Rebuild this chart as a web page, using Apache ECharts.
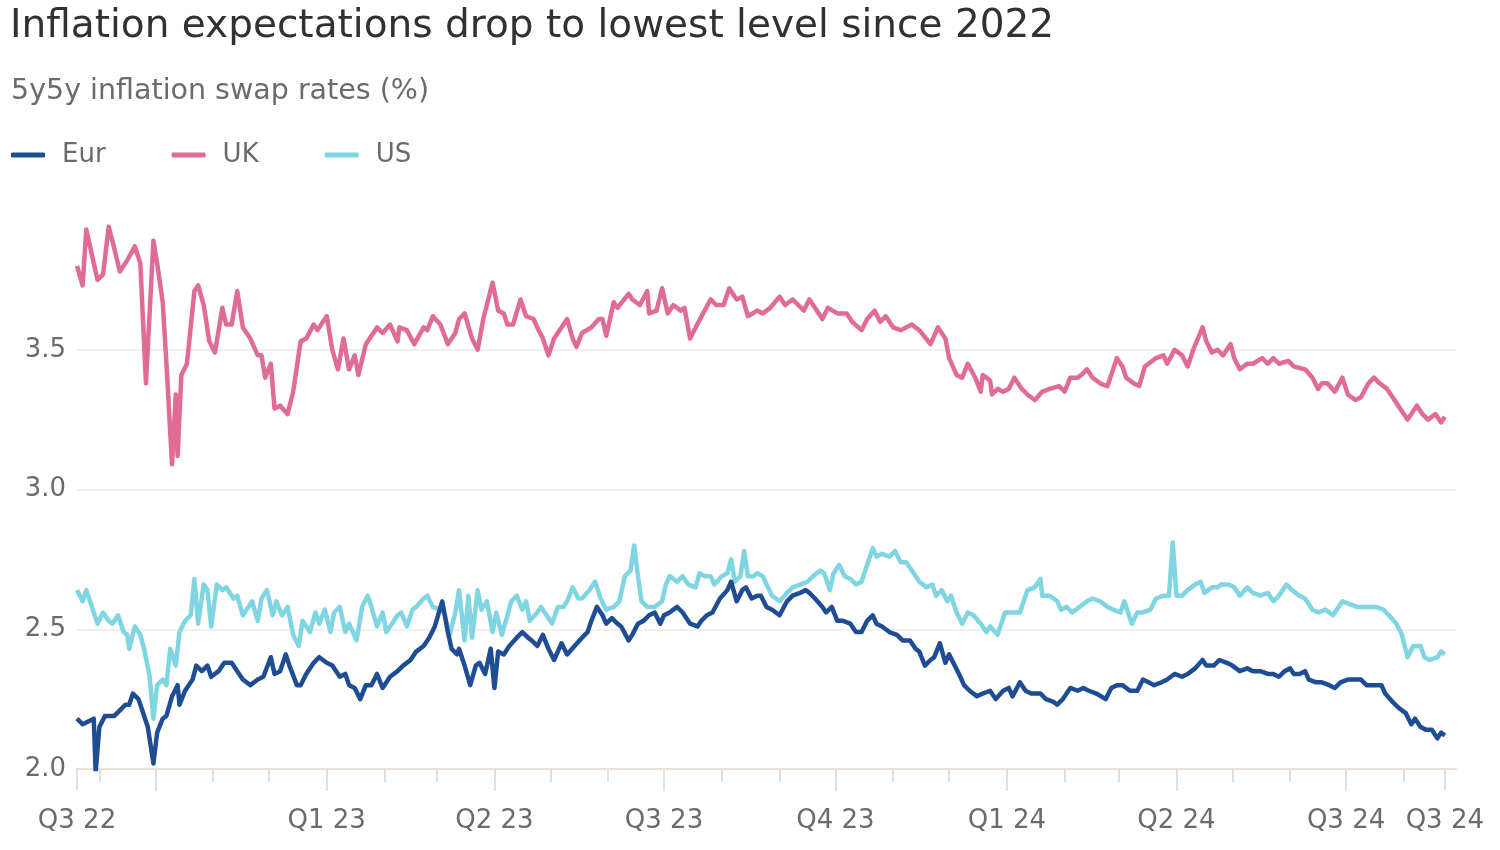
<!DOCTYPE html>
<html>
<head>
<meta charset="utf-8">
<script src="https://cdn.jsdelivr.net/npm/echarts@6/dist/echarts.min.js"></script>
<style>
html,body{margin:0;padding:0;background:#fff;}
#chart{width:1500px;height:850px;}
</style>
</head>
<body>
<div id="chart"></div>
<script>
// Day 0 of the series = 2022-08-20; data points are [day offset, value in %]
const START_DATE = '2022-08-20';
const END_DATE = '2024-08-23';

const TITLE = 'Inflation expectations drop to lowest level since 2022';
const SUBTITLE = '5y5y inflation swap rates (%)';
const seriesNames = ['Eur', 'UK', 'US'];

const xLabelDates = ['2022-08-20','2023-01-01','2023-04-01','2023-07-01','2023-10-01','2024-01-01','2024-04-01','2024-07-01','2024-08-23'];
const xLabelTexts = ['Q3 22','Q1 23','Q2 23','Q3 23','Q4 23','Q1 24','Q2 24','Q3 24','Q3 24'];
const majorTickDates = ['2022-08-20','2022-10-01','2023-01-01','2023-04-01','2023-07-01','2023-10-01','2024-01-01','2024-04-01','2024-07-01','2024-08-23'];
const minorTickDates = ['2022-09-01','2022-11-01','2022-12-01','2023-02-01','2023-03-01','2023-05-01','2023-06-01','2023-08-01','2023-09-01','2023-11-01','2023-12-01','2024-02-01','2024-03-01','2024-05-01','2024-06-01','2024-08-01'];
const yTicks = [2.0, 2.5, 3.0, 3.5];

const ukData = [
[0,3.80],[3,3.73],[5,3.93],[8,3.84],[11,3.75],[14,3.77],[17,3.94],[19,3.89],[23,3.78],[27,3.82],[31,3.87],[34,3.81],[37,3.38],[41,3.89],[43,3.81],[46,3.67],[48,3.45],[51,3.09],[53,3.34],[54,3.12],[56,3.41],[59,3.45],[63,3.71],[65,3.73],[68,3.66],[71,3.53],[74,3.49],[78,3.65],[80,3.59],[83,3.59],[86,3.71],[89,3.58],[93,3.54],[97,3.48],[99,3.48],[101,3.40],[104,3.45],[106,3.29],[109,3.30],[113,3.27],[116,3.35],[120,3.53],[123,3.54],[127,3.59],[129,3.57],[134,3.62],[137,3.50],[140,3.43],[143,3.54],[146,3.43],[149,3.48],[151,3.41],[155,3.52],[161,3.58],[164,3.56],[168,3.59],[172,3.53],[173,3.58],[177,3.57],[181,3.52],[186,3.58],[188,3.57],[191,3.62],[195,3.59],[199,3.52],[203,3.56],[205,3.61],[208,3.63],[212,3.54],[215,3.50],[218,3.61],[223,3.74],[226,3.64],[229,3.63],[231,3.59],[234,3.59],[238,3.68],[241,3.62],[245,3.61],[247,3.58],[250,3.54],[253,3.48],[256,3.54],[259,3.57],[263,3.61],[266,3.54],[268,3.51],[271,3.56],[276,3.58],[280,3.61],[282,3.61],[284,3.55],[288,3.67],[290,3.65],[296,3.70],[298,3.68],[302,3.66],[306,3.71],[307,3.63],[311,3.64],[314,3.72],[317,3.63],[320,3.66],[324,3.64],[326,3.65],[329,3.54],[332,3.58],[336,3.63],[340,3.68],[343,3.66],[347,3.66],[350,3.72],[354,3.68],[357,3.69],[360,3.62],[365,3.64],[368,3.63],[372,3.65],[377,3.69],[380,3.66],[384,3.68],[387,3.66],[390,3.64],[393,3.68],[396,3.65],[400,3.61],[403,3.65],[408,3.63],[413,3.63],[416,3.60],[421,3.57],[424,3.61],[428,3.64],[431,3.60],[434,3.62],[438,3.58],[442,3.57],[448,3.59],[452,3.57],[458,3.52],[462,3.58],[466,3.54],[468,3.47],[472,3.41],[475,3.40],[478,3.45],[482,3.40],[485,3.35],[486,3.41],[490,3.39],[491,3.34],[494,3.36],[497,3.35],[500,3.36],[503,3.40],[507,3.36],[510,3.34],[514,3.32],[518,3.35],[522,3.36],[527,3.37],[530,3.35],[533,3.40],[537,3.40],[539,3.41],[542,3.43],[545,3.40],[549,3.38],[553,3.37],[558,3.47],[561,3.44],[563,3.40],[567,3.38],[570,3.37],[573,3.44],[577,3.46],[579,3.47],[583,3.48],[585,3.45],[589,3.50],[593,3.48],[596,3.44],[599,3.50],[604,3.58],[606,3.53],[609,3.49],[612,3.50],[615,3.48],[619,3.52],[621,3.47],[624,3.43],[628,3.45],[631,3.45],[636,3.47],[639,3.45],[642,3.47],[645,3.45],[650,3.46],[653,3.44],[659,3.43],[663,3.40],[666,3.36],[668,3.38],[671,3.38],[675,3.35],[679,3.40],[682,3.34],[686,3.32],[689,3.33],[693,3.38],[696,3.40],[699,3.38],[703,3.36],[706,3.33],[711,3.28],[714,3.25],[719,3.30],[722,3.27],[725,3.25],[729,3.27],[732,3.24],[734,3.26]
];

const usData = [
[0,2.64],[3,2.60],[5,2.64],[8,2.58],[11,2.52],[14,2.56],[17,2.53],[19,2.52],[22,2.55],[25,2.49],[27,2.48],[28,2.43],[31,2.51],[34,2.48],[36,2.43],[39,2.33],[41,2.18],[43,2.30],[46,2.32],[48,2.30],[50,2.43],[53,2.37],[55,2.49],[58,2.53],[61,2.55],[63,2.68],[65,2.52],[68,2.66],[70,2.64],[72,2.51],[75,2.66],[78,2.64],[80,2.65],[84,2.61],[86,2.62],[89,2.55],[92,2.58],[94,2.60],[97,2.53],[99,2.61],[102,2.64],[105,2.55],[107,2.60],[110,2.55],[113,2.58],[116,2.48],[119,2.44],[121,2.53],[125,2.49],[128,2.56],[130,2.52],[133,2.57],[136,2.49],[138,2.56],[141,2.58],[144,2.49],[146,2.52],[150,2.46],[153,2.58],[156,2.62],[158,2.58],[161,2.51],[164,2.56],[166,2.49],[169,2.52],[172,2.55],[174,2.56],[177,2.51],[180,2.57],[182,2.58],[186,2.61],[188,2.62],[191,2.58],[195,2.57],[197,2.56],[200,2.48],[203,2.56],[205,2.64],[208,2.46],[210,2.62],[212,2.47],[215,2.64],[217,2.57],[220,2.60],[223,2.49],[225,2.56],[228,2.48],[231,2.55],[233,2.60],[236,2.62],[239,2.57],[241,2.60],[243,2.53],[247,2.56],[249,2.58],[252,2.55],[255,2.52],[258,2.58],[261,2.58],[263,2.60],[266,2.65],[269,2.61],[271,2.61],[275,2.64],[278,2.67],[281,2.61],[284,2.57],[288,2.58],[291,2.60],[294,2.69],[297,2.71],[299,2.80],[301,2.69],[303,2.60],[306,2.58],[310,2.58],[314,2.60],[316,2.66],[318,2.69],[322,2.67],[325,2.69],[328,2.66],[332,2.65],[334,2.70],[337,2.69],[340,2.69],[342,2.66],[346,2.69],[349,2.70],[351,2.75],[353,2.67],[356,2.69],[358,2.78],[360,2.69],[363,2.69],[365,2.70],[368,2.69],[370,2.66],[373,2.62],[377,2.60],[381,2.63],[384,2.65],[388,2.66],[392,2.67],[395,2.69],[399,2.71],[401,2.70],[404,2.64],[406,2.70],[409,2.73],[412,2.69],[415,2.68],[418,2.66],[421,2.67],[424,2.73],[427,2.79],[429,2.76],[432,2.77],[436,2.76],[439,2.78],[442,2.74],[445,2.74],[449,2.70],[452,2.67],[456,2.65],[459,2.66],[461,2.62],[464,2.64],[467,2.60],[469,2.62],[472,2.56],[475,2.52],[478,2.56],[481,2.55],[485,2.52],[488,2.49],[490,2.51],[494,2.48],[498,2.56],[502,2.56],[506,2.56],[510,2.64],[514,2.65],[517,2.68],[518,2.62],[522,2.62],[526,2.60],[528,2.57],[531,2.58],[534,2.56],[538,2.58],[542,2.60],[545,2.61],[549,2.60],[553,2.58],[556,2.57],[560,2.56],[562,2.60],[566,2.52],[569,2.56],[572,2.56],[576,2.57],[579,2.61],[583,2.62],[586,2.62],[588,2.81],[590,2.62],[593,2.62],[596,2.64],[600,2.66],[603,2.67],[605,2.63],[609,2.65],[612,2.65],[614,2.66],[618,2.66],[621,2.65],[624,2.62],[628,2.65],[631,2.63],[635,2.62],[639,2.63],[642,2.60],[645,2.62],[649,2.66],[652,2.64],[656,2.62],[659,2.61],[663,2.57],[666,2.56],[670,2.57],[674,2.55],[677,2.58],[679,2.60],[683,2.59],[687,2.58],[690,2.58],[694,2.58],[697,2.58],[701,2.57],[704,2.55],[708,2.52],[711,2.48],[714,2.40],[717,2.44],[721,2.44],[723,2.40],[726,2.39],[730,2.40],[732,2.42],[734,2.41]
];

const eurData = [
[0,2.18],[3,2.16],[6,2.17],[9,2.18],[10,1.99],[12,2.15],[15,2.19],[18,2.19],[20,2.19],[23,2.21],[26,2.23],[28,2.23],[30,2.27],[33,2.25],[35,2.21],[38,2.15],[41,2.02],[43,2.13],[46,2.18],[48,2.19],[51,2.26],[54,2.30],[55,2.23],[58,2.28],[62,2.32],[64,2.37],[67,2.35],[70,2.37],[72,2.33],[76,2.35],[79,2.38],[83,2.38],[86,2.35],[89,2.32],[93,2.30],[97,2.32],[100,2.33],[104,2.40],[106,2.34],[109,2.35],[112,2.41],[114,2.37],[118,2.30],[120,2.30],[123,2.34],[127,2.38],[130,2.40],[134,2.38],[137,2.37],[141,2.33],[144,2.34],[146,2.30],[149,2.29],[152,2.25],[155,2.30],[158,2.30],[161,2.34],[164,2.29],[168,2.33],[172,2.35],[175,2.37],[179,2.39],[182,2.42],[186,2.44],[189,2.47],[192,2.51],[196,2.60],[199,2.49],[201,2.43],[204,2.41],[205,2.43],[208,2.37],[211,2.30],[214,2.37],[216,2.38],[219,2.34],[222,2.43],[224,2.29],[226,2.42],[229,2.41],[232,2.44],[236,2.47],[239,2.49],[242,2.47],[244,2.46],[247,2.44],[250,2.48],[253,2.43],[256,2.39],[260,2.45],[263,2.41],[267,2.44],[271,2.47],[274,2.49],[276,2.53],[279,2.58],[282,2.55],[284,2.52],[287,2.54],[290,2.52],[292,2.51],[296,2.46],[298,2.48],[301,2.52],[304,2.53],[307,2.55],[310,2.56],[313,2.52],[315,2.55],[318,2.56],[322,2.58],[325,2.56],[329,2.52],[333,2.51],[335,2.53],[338,2.55],[341,2.56],[345,2.61],[349,2.64],[351,2.67],[354,2.60],[357,2.64],[359,2.65],[362,2.61],[365,2.62],[367,2.62],[370,2.58],[373,2.57],[377,2.55],[381,2.60],[384,2.62],[388,2.63],[391,2.64],[393,2.63],[396,2.61],[400,2.58],[402,2.56],[405,2.58],[408,2.53],[411,2.53],[415,2.52],[418,2.49],[421,2.49],[424,2.53],[427,2.55],[429,2.52],[432,2.51],[436,2.49],[440,2.48],[443,2.46],[447,2.46],[450,2.43],[452,2.42],[455,2.37],[458,2.39],[460,2.40],[463,2.45],[466,2.38],[468,2.41],[471,2.37],[474,2.33],[476,2.30],[479,2.28],[483,2.26],[486,2.27],[490,2.28],[493,2.25],[497,2.28],[500,2.29],[502,2.26],[506,2.31],[509,2.28],[512,2.27],[517,2.27],[520,2.25],[524,2.24],[526,2.23],[529,2.25],[533,2.29],[537,2.28],[540,2.29],[543,2.28],[547,2.27],[552,2.25],[555,2.29],[558,2.30],[561,2.30],[565,2.28],[569,2.28],[572,2.32],[575,2.31],[578,2.30],[582,2.31],[585,2.32],[589,2.34],[593,2.33],[596,2.34],[600,2.36],[604,2.39],[606,2.37],[610,2.37],[613,2.39],[617,2.38],[620,2.37],[624,2.35],[628,2.36],[631,2.35],[635,2.35],[639,2.34],[642,2.34],[645,2.33],[648,2.35],[651,2.36],[653,2.34],[656,2.34],[659,2.35],[661,2.32],[665,2.31],[668,2.31],[672,2.30],[675,2.29],[678,2.31],[682,2.32],[685,2.32],[689,2.32],[692,2.30],[696,2.30],[700,2.30],[702,2.27],[706,2.24],[709,2.22],[713,2.20],[716,2.16],[718,2.18],[721,2.15],[724,2.14],[727,2.14],[730,2.11],[732,2.13],[734,2.12]
];

const COLORS = { Eur: '#1f4d93', UK: '#e06b96', US: '#7fd5e1' };
const TEXT_GREY = '#6e6a67';
const FONT = '"DejaVu Sans", "Noto Sans", sans-serif';

const DAY = 86400000;
function dayOf(s) {
  const p = s.split('-').map(Number);
  return Math.round((Date.UTC(p[0], p[1] - 1, p[2]) - Date.UTC(2022, 7, 20)) / DAY);
}
const endDay = dayOf(END_DATE);
const xMax = endDay + 6;
const labelDays = xLabelDates.map(dayOf);
const labelMap = {};
labelDays.forEach((d, i) => { labelMap[d] = xLabelTexts[i]; });

const chart = echarts.init(document.getElementById('chart'), null, { renderer: 'canvas' });

const dataBy = { Eur: eurData, UK: ukData, US: usData };
const drawOrder = ['UK', 'US', 'Eur'];

chart.setOption({
  animation: false,
  backgroundColor: '#ffffff',
  textStyle: { fontFamily: FONT },
  title: [
    { text: TITLE, left: 5, top: 2, textStyle: { fontFamily: FONT, fontSize: 39, fontWeight: 'normal', color: '#33302e' } },
    { text: SUBTITLE, left: 6, top: 72, textStyle: { fontFamily: FONT, fontSize: 28.5, fontWeight: 'normal', color: TEXT_GREY } }
  ],
  legend: {
    data: seriesNames,
    left: 6, top: 137,
    icon: 'roundRect',
    itemWidth: 34, itemHeight: 5, itemGap: 66,
    textStyle: { fontFamily: FONT, fontSize: 26, color: TEXT_GREY, padding: [0, 0, 0, 12] }
  },
  grid: { left: 77, right: 44, top: 210, bottom: 81, containLabel: false },
  xAxis: [
    {
      type: 'value', min: 0, max: xMax,
      axisLine: { show: true, lineStyle: { color: '#e8e1da', width: 2 } },
      axisTick: { show: true, customValues: minorTickDates.map(dayOf), length: 13, lineStyle: { color: '#ddd6cf', width: 1.5 } },
      axisLabel: {
        customValues: labelDays,
        formatter: v => labelMap[Math.round(v)] || '',
        fontFamily: FONT, fontSize: 26, color: TEXT_GREY, margin: 39
      },
      splitLine: { show: false }
    },
    {
      type: 'value', min: 0, max: xMax, position: 'bottom',
      axisLine: { show: false },
      axisTick: { show: true, customValues: majorTickDates.map(dayOf), length: 22, lineStyle: { color: '#ddd6cf', width: 1.5 } },
      axisLabel: { show: false },
      splitLine: { show: false }
    }
  ],
  yAxis: {
    type: 'value', min: 2, max: 4, interval: 0.5,
    axisLine: { show: false },
    axisTick: { show: false },
    axisLabel: {
      fontFamily: FONT, fontSize: 26, color: TEXT_GREY, margin: 11,
      formatter: v => (yTicks.indexOf(v) >= 0 ? v.toFixed(1) : '')
    },
    splitLine: { show: true, lineStyle: { color: ['#efe9e4', '#f1ebe6', '#f1ebe6', '#f1ebe6', 'rgba(0,0,0,0)'], width: 1.5 } }
  },
  series: drawOrder.map(name => ({
    name: name,
    type: 'line',
    xAxisIndex: 0,
    data: dataBy[name],
    showSymbol: false,
    symbol: 'none',
    lineStyle: { color: COLORS[name], width: 4.5, join: 'round' },
    itemStyle: { color: COLORS[name] },
    z: name === 'Eur' ? 4 : 3
  }))
});
</script>
</body>
</html>
